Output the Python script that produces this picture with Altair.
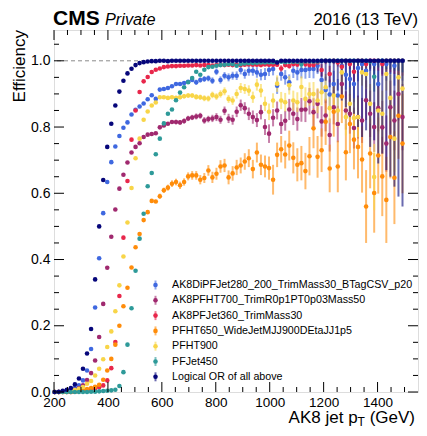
import altair as alt
import pandas as pd

FONT = "Liberation Sans"
W, H = 364, 362

# ---------------- data ----------------
pt_bins = [202.5 + 15 * i for i in range(87)]  # 15 GeV bins, centres 202.5 ... 1492.5

series_names = [
    "AK8DiPFJet280_200_TrimMass30_BTagCSV_p20",
    "AK8PFHT700_TrimR0p1PT0p03Mass50",
    "AK8PFJet360_TrimMass30",
    "PFHT650_WideJetMJJ900DEtaJJ1p5",
    "PFHT900",
    "PFJet450",
    "Logical OR of all above",
]
series_colors = ["#3f68e0", "#a0296f", "#e8274b", "#ff8c0a", "#f8d548", "#2e9a99", "#06067a"]

eff_blue = [0.0, 0.0, 0.001, 0.003, 0.007, 0.012, 0.02, 0.035, 0.065, 0.13,
            0.255, 0.404, 0.54, 0.634, 0.694, 0.741, 0.773, 0.798, 0.814, 0.838,
            0.852, 0.862, 0.871, 0.884, 0.896, 0.885, 0.913, 0.915, 0.918, 0.923,
            0.93, 0.93, 0.933, 0.937, 0.942, 0.935, 0.942, 0.945, 0.947, 0.94,
            0.967, 0.942, 0.955, 0.95, 0.955, 0.955, 0.972, 0.96, 0.97, 0.97,
            0.965, 0.958, 0.96, 0.972, 0.975, 0.925, 0.96, 0.95, 0.935, 0.97,
            0.965, 0.972, 0.972, 0.975, 0.975, 0.985, 0.942, 0.912, 0.898, 0.93,
            0.895, 0.985, 0.958, 0.945, 0.93, 0.978, 0.99, 0.97, 1.0, 0.99,
            0.93, 1.0, 0.99, 1.0, 0.985, 1.0, 1.0]
err_blue = [0.0] * 35 + [
            0.008, 0.008, 0.009, 0.009, 0.01, 0.01, 0.011, 0.011, 0.012, 0.012,
            0.013, 0.013, 0.014, 0.015, 0.015, 0.016, 0.017, 0.018, 0.018, 0.019,
            0.025, 0.02, 0.022, 0.024, 0.022, 0.024, 0.025, 0.026, 0.027, 0.028,
            0.025, 0.035, 0.04, 0.045, 0.04, 0.05, 0.03, 0.045, 0.05, 0.055,
            0.04, 0.03, 0.05, 0.03, 0.04, 0.07, 0.04, 0.05, 0.04, 0.06,
            0.05, 0.06]

eff_purple = [0.0, 0.0, 0.001, 0.002, 0.004, 0.007, 0.012, 0.02, 0.036, 0.057,
              0.095, 0.166, 0.266, 0.375, 0.469, 0.551, 0.614, 0.656, 0.693, 0.723,
              0.74, 0.751, 0.77, 0.777, 0.779, 0.781, 0.799, 0.805, 0.81, 0.815,
              0.815, 0.814, 0.818, 0.826, 0.829, 0.832, 0.834, 0.82, 0.824, 0.826,
              0.83, 0.822, 0.849, 0.826, 0.822, 0.846, 0.866, 0.857, 0.84, 0.83,
              0.821, 0.845, 0.8, 0.78, 0.828, 0.85, 0.809, 0.819, 0.853, 0.84,
              0.824, 0.852, 0.853, 0.878, 0.845, 0.87, 0.817, 0.835, 0.776, 0.86,
              0.809, 0.93, 0.85, 0.84, 0.797, 0.83, 0.82, 0.881, 0.84, 0.8,
              0.857, 0.799, 0.75, 0.86, 0.82, 0.9, 0.83]
err_purple = [0.0] * 30 + [
              0.007, 0.007, 0.008, 0.008, 0.008, 0.009, 0.009, 0.01, 0.01, 0.011,
              0.012, 0.012, 0.013, 0.014, 0.015, 0.016, 0.017, 0.018, 0.019, 0.02,
              0.021, 0.022, 0.024, 0.028, 0.026, 0.027, 0.03, 0.03, 0.032, 0.034,
              0.035, 0.036, 0.038, 0.04, 0.042, 0.044, 0.046, 0.048, 0.05, 0.052,
              0.055, 0.04, 0.058, 0.06, 0.062, 0.065, 0.068, 0.06, 0.07, 0.075,
              0.07, 0.08, 0.085, 0.08, 0.09, 0.08, 0.1]

eff_red = [0.0, 0.0, 0.0, 0.0, 0.0, 0.001, 0.002, 0.004, 0.006, 0.008,
           0.011, 0.014, 0.02, 0.035, 0.072, 0.151, 0.29, 0.466, 0.637, 0.762,
           0.85, 0.906, 0.938, 0.951, 0.966, 0.973, 0.977, 0.981, 0.983, 0.984,
           0.984, 0.985, 0.985, 0.986, 0.986, 0.987, 0.986, 0.987, 0.987, 0.986,
           0.987, 0.988, 0.987, 0.988, 0.987, 0.988, 0.987, 0.988, 0.989, 0.988,
           0.988, 0.987, 0.989, 0.988, 0.988, 0.988, 0.977, 0.987, 0.984, 0.99,
           0.989, 0.995, 0.99, 0.987, 0.987, 0.995, 0.972, 1.0, 0.96, 1.0,
           0.995, 0.982, 1.0, 0.99, 0.967, 1.0, 1.0, 0.99, 1.0, 1.0,
           1.0, 0.99, 1.0, 1.0, 1.0, 1.0, 1.0]
err_red = [0.0] * 50 + [
           0.004, 0.004, 0.004, 0.005, 0.005, 0.005, 0.01, 0.006, 0.007, 0.006,
           0.007, 0.006, 0.008, 0.01, 0.01, 0.008, 0.018, 0.01, 0.025, 0.01,
           0.012, 0.02, 0.012, 0.015, 0.03, 0.015, 0.02, 0.02, 0.025, 0.03,
           0.03, 0.035, 0.03, 0.035, 0.04, 0.04, 0.045]

eff_orange = [0.0, 0.0, 0.0, 0.0, 0.0, 0.001, 0.003, 0.006, 0.009, 0.012,
              0.016, 0.022, 0.037, 0.065, 0.1, 0.143, 0.2, 0.259, 0.315, 0.376,
              0.437, 0.477, 0.519, 0.543, 0.577, 0.575, 0.591, 0.609, 0.617, 0.629,
              0.634, 0.624, 0.634, 0.651, 0.654, 0.654, 0.641, 0.646, 0.669, 0.648,
              0.659, 0.681, 0.684, 0.648, 0.66, 0.678, 0.684, 0.696, 0.706, 0.673,
              0.723, 0.686, 0.681, 0.676, 0.641, 0.716, 0.733, 0.717, 0.744, 0.707,
              0.686, 0.691, 0.667, 0.712, 0.796, 0.71, 0.73, 0.816, 0.675, 0.846,
              0.681, 0.892, 0.724, 0.809, 0.762, 0.74, 0.702, 0.56, 0.72, 0.601,
              0.714, 0.651, 0.58, 0.77, 0.647, 0.834, 0.75]
err_orange = [0.0] * 26 + [
              0.008, 0.008, 0.009, 0.01, 0.01, 0.011, 0.011, 0.012, 0.013, 0.013,
              0.014, 0.015, 0.016, 0.017, 0.018, 0.019, 0.02, 0.021, 0.022, 0.023,
              0.024, 0.025, 0.027, 0.028, 0.03, 0.031, 0.033, 0.035, 0.045, 0.037,
              0.04, 0.042, 0.045, 0.047, 0.05, 0.052, 0.055, 0.058, 0.06, 0.063,
              0.066, 0.07, 0.072, 0.075, 0.078, 0.08, 0.085, 0.088, 0.09, 0.095,
              0.1, 0.11, 0.105, 0.12, 0.115, 0.12, 0.13, 0.125, 0.14, 0.13, 0.15]

eff_yellow = [0.0, 0.0, 0.001, 0.002, 0.003, 0.006, 0.01, 0.015, 0.025, 0.033,
              0.05, 0.07, 0.099, 0.136, 0.183, 0.244, 0.322, 0.409, 0.512, 0.616,
              0.706, 0.765, 0.822, 0.847, 0.865, 0.874, 0.89, 0.89, 0.888, 0.89,
              0.888, 0.89, 0.893, 0.895, 0.895, 0.891, 0.89, 0.887, 0.886, 0.897,
              0.892, 0.9, 0.908, 0.885, 0.88, 0.9, 0.918, 0.915, 0.91, 0.89,
              0.928, 0.91, 0.87, 0.846, 0.88, 0.931, 0.88, 0.875, 0.926, 0.88,
              0.875, 0.921, 0.885, 0.9, 0.9, 0.88, 0.905, 0.92, 0.857, 0.895,
              0.85, 0.965, 0.83, 0.87, 0.827, 0.83, 0.965, 0.96, 0.87, 0.649,
              0.85, 0.84, 0.96, 0.888, 0.765, 0.95, 0.916]
err_yellow = [0.0] * 30 + [
              0.006, 0.006, 0.007, 0.007, 0.007, 0.008, 0.008, 0.009, 0.009, 0.01,
              0.01, 0.011, 0.012, 0.012, 0.013, 0.014, 0.015, 0.015, 0.016, 0.017,
              0.018, 0.02, 0.022, 0.025, 0.022, 0.025, 0.026, 0.028, 0.028, 0.03,
              0.03, 0.032, 0.035, 0.035, 0.036, 0.038, 0.04, 0.04, 0.045, 0.045,
              0.05, 0.035, 0.055, 0.05, 0.06, 0.06, 0.04, 0.045, 0.06, 0.1,
              0.07, 0.07, 0.05, 0.07, 0.1, 0.06, 0.08]

eff_teal = [0.0, 0.0, 0.0, 0.0, 0.0, 0.0, 0.0, 0.0, 0.0, 0.001,
            0.001, 0.002, 0.003, 0.004, 0.005, 0.007, 0.018, 0.06, 0.143, 0.253,
            0.366, 0.463, 0.538, 0.621, 0.661, 0.718, 0.765, 0.811, 0.84, 0.853,
            0.881, 0.904, 0.92, 0.935, 0.948, 0.967, 0.958, 0.973, 0.981, 0.982,
            0.985, 0.987, 0.988, 0.99, 0.99, 0.985, 0.99, 0.992, 0.993, 0.993,
            0.994, 0.995, 0.995, 0.996, 0.996, 0.996, 0.997, 0.996, 0.997, 0.997,
            0.997, 0.99, 0.998, 0.998, 0.998, 0.998, 1.0, 1.0, 1.0, 1.0,
            1.0, 1.0, 1.0, 1.0, 1.0, 1.0, 1.0, 1.0, 0.998, 0.952,
            1.0, 1.0, 1.0, 1.0, 1.0, 1.0, 1.0]
err_teal = [0.0] * 40 + [
            0.004, 0.004, 0.004, 0.004, 0.004, 0.004, 0.004, 0.004, 0.004, 0.004,
            0.004, 0.004, 0.004, 0.003, 0.004, 0.004, 0.004, 0.004, 0.004, 0.004,
            0.004, 0.012, 0.004, 0.004, 0.005, 0.005, 0.006, 0.006, 0.007, 0.008,
            0.008, 0.009, 0.01, 0.01, 0.012, 0.013, 0.014, 0.015, 0.02, 0.045,
            0.02, 0.02, 0.025, 0.025, 0.03, 0.03, 0.035]

eff_or = [0.0, 0.001, 0.004, 0.007, 0.012, 0.023, 0.041, 0.07, 0.116, 0.19,
          0.34, 0.50, 0.64, 0.74, 0.81, 0.865, 0.907, 0.94, 0.962, 0.976,
          0.987, 0.993, 0.996, 0.998, 0.999, 0.999, 1.0, 1.0, 0.999, 1.0] + \
         [1.0] * 25 + [0.995] + [1.0] * 31
err_or = [0.0] * 60 + [
          0.008, 0.01, 0.015, 0.02, 0.025, 0.035, 0.05, 0.06, 0.08, 0.1,
          0.09, 0.12, 0.14, 0.17, 0.16, 0.2, 0.23, 0.21, 0.26, 0.24,
          0.31, 0.28, 0.33, 0.35, 0.38, 0.41, 0.44]

x_major = [200, 400, 600, 800, 1000, 1200, 1400]
x_minor = [250, 300, 350, 450, 500, 550, 650, 700, 750, 850, 900, 950,
           1050, 1100, 1150, 1250, 1300, 1350, 1450, 1500]
y_major = [0.0, 0.2, 0.4, 0.6, 0.8, 1.0]
y_minor = [0.05, 0.1, 0.15, 0.25, 0.3, 0.35, 0.45, 0.5, 0.55, 0.65, 0.7, 0.75,
           0.85, 0.9, 0.95, 1.05]

# ---------------- tables ----------------
effs = [eff_blue, eff_purple, eff_red, eff_orange, eff_yellow, eff_teal, eff_or]
errs = [err_blue, err_purple, err_red, err_orange, err_yellow, err_teal, err_or]
rows = []
for name, e_list, r_list in zip(series_names, effs, errs):
    for pt, e, r in zip(pt_bins, e_list, r_list):
        rows.append({"series": name, "pT": pt, "eff": e,
                     "lo": max(e - r, 0.0), "hi": min(e + r, 1.0), "err": r})
df = pd.DataFrame(rows)
df_err = df[df["err"] > 0]

xs = alt.Scale(domain=[200, 1550], nice=False, zero=False)
ys = alt.Scale(domain=[0, 1.093], nice=False, zero=False)
cs = alt.Scale(domain=series_names, range=series_colors)

xaxis = alt.Axis(values=x_major, format="d", title=None, ticks=False, tickSize=0, domain=False,
                 grid=False, labelFontSize=13.5, labelFont=FONT, labelColor="black",
                 labelPadding=3, labelFlush=False, labelOverlap=False)
yaxis = alt.Axis(values=y_major, format=".1f", title=None, ticks=False, tickSize=0,
                 domain=False, grid=False, labelFontSize=14, labelFont=FONT,
                 labelColor="black", labelPadding=4, labelFlush=False, labelOverlap=False)

dash = alt.Chart(pd.DataFrame({"y": [1.0]})).mark_rule(
    strokeDash=[4, 3], color="#8a8a8a", strokeWidth=1
).encode(y=alt.Y("y:Q", scale=ys, axis=yaxis))

bars = alt.Chart(df_err).mark_rule(strokeWidth=2, opacity=0.6).encode(
    x=alt.X("pT:Q", scale=xs, axis=xaxis),
    y=alt.Y("lo:Q", scale=ys, axis=yaxis),
    y2="hi:Q",
    color=alt.Color("series:N", scale=cs, legend=None),
)

points = alt.Chart(df).mark_circle(size=21, opacity=1).encode(
    x=alt.X("pT:Q", scale=xs, axis=xaxis),
    y=alt.Y("eff:Q", scale=ys, axis=yaxis),
    color=alt.Color("series:N", scale=cs, legend=None),
)

# inward ticks on all four sides
def xtick_layers(vals, length):
    d = pd.DataFrame({"v": vals})
    base = alt.Chart(d).mark_rule(color="black", strokeWidth=1)
    bot = base.encode(x=alt.X("v:Q", scale=xs, axis=xaxis), y=alt.value(H), y2=alt.value(H - length))
    top = base.encode(x=alt.X("v:Q", scale=xs, axis=xaxis), y=alt.value(0), y2=alt.value(length))
    return [bot, top]

def ytick_layers(vals, length):
    d = pd.DataFrame({"v": vals})
    base = alt.Chart(d).mark_rule(color="black", strokeWidth=1)
    left = base.encode(y=alt.Y("v:Q", scale=ys, axis=yaxis), x=alt.value(0), x2=alt.value(length))
    right = base.encode(y=alt.Y("v:Q", scale=ys, axis=yaxis), x=alt.value(W), x2=alt.value(W - length))
    return [left, right]

ticks = xtick_layers(x_major, 10) + xtick_layers(x_minor, 5) + \
        ytick_layers(y_major, 10) + ytick_layers(y_minor, 5)

# texts
def text_layer(label, x, y, size, **kw):
    return alt.Chart(pd.DataFrame({"t": [label]})).mark_text(
        font=FONT, fontSize=size, color="black", **kw
    ).encode(x=alt.value(x), y=alt.value(y), text="t:N")

gev_w = 2.945 * 17
t_w = 0.611 * 12
xt_right = W - 3
texts = [
    text_layer("CMS", -1, -5.5, 21, fontWeight="bold", align="left", baseline="alphabetic"),
    text_layer("Private", 51, -5.5, 16.3, fontStyle="italic", align="left", baseline="alphabetic"),
    text_layer("2016 (13 TeV)", W, -5.5, 16.7, align="right", baseline="alphabetic"),
    text_layer("Efficiency", -29, 0, 17, angle=270, align="right", baseline="alphabetic"),
    text_layer(" (GeV)", xt_right, H + 31, 17, align="right", baseline="alphabetic"),
    text_layer("T", xt_right - gev_w, H + 33.5, 12, align="right", baseline="alphabetic"),
    text_layer("AK8 jet p", xt_right - gev_w - t_w, H + 31, 17, align="right", baseline="alphabetic"),
]

# legend
leg = pd.DataFrame({"series": series_names})
leg["ly"] = [255 + 15.3 * i for i in range(len(series_names))]
leg["ly_a"] = leg["ly"] - 4.5
leg["ly_b"] = leg["ly"] + 4.5
LX = 101.5
leg_bars = alt.Chart(leg).mark_rule(strokeWidth=2, opacity=0.6).encode(
    x=alt.value(LX), y=alt.Y("ly_a:Q", scale=None), y2="ly_b:Q",
    color=alt.Color("series:N", scale=cs, legend=None))
leg_pts = alt.Chart(leg).mark_circle(size=21, opacity=1).encode(
    x=alt.value(LX), y=alt.Y("ly:Q", scale=None),
    color=alt.Color("series:N", scale=cs, legend=None))
leg_txt = alt.Chart(leg).mark_text(font=FONT, fontSize=10.7, align="left",
                                   baseline="middle", color="black").encode(
    x=alt.value(LX + 16.5), y=alt.Y("ly:Q", scale=None), text="series:N")

chart = alt.layer(dash, bars, points, *ticks, leg_bars, leg_pts, leg_txt, *texts).properties(
    width=W, height=H,
    padding={"left": 46, "top": 22, "right": 1, "bottom": 36},
    autosize=alt.AutoSizeParams(type="none"),
).configure_view(stroke="black", strokeWidth=1).configure(background="white")

chart.save("out.html", embed_options={"renderer": "svg", "actions": False})
